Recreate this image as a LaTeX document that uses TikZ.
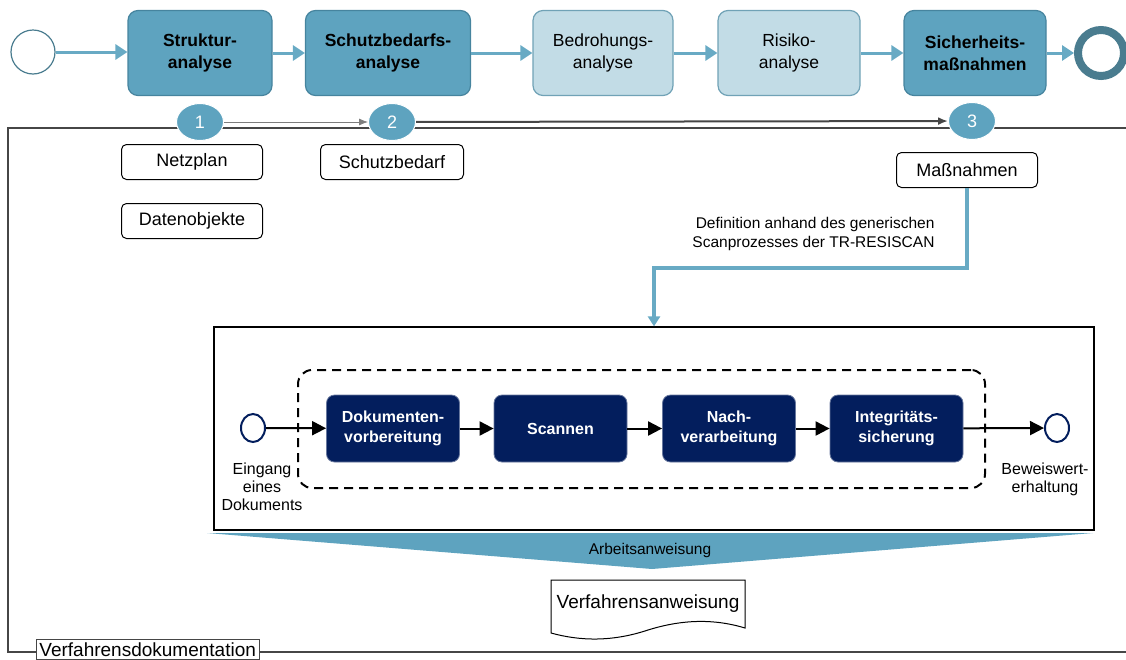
\documentclass[tikz,border=0pt]{standalone}
\usepackage{fontspec}
\setmainfont{Liberation Sans}
\usetikzlibrary{shapes.geometric,arrows.meta}
\definecolor{cmid}{RGB}{94,163,191}
\definecolor{cmidline}{RGB}{70,132,158}
\definecolor{clight}{RGB}{194,220,230}
\definecolor{clightline}{RGB}{112,162,182}
\definecolor{cnavy}{RGB}{3,30,93}
\definecolor{carrow}{RGB}{104,170,196}
\definecolor{cring}{RGB}{74,124,143}
\definecolor{cgrey}{RGB}{70,70,70}

\tikzset{
	phasebox/.style={draw=cmidline, fill=cmid, line width=1.2pt, rounded corners=10pt, minimum height=85pt, align=center, font=\fontsize{17.5}{22}\selectfont\bfseries},
	phaselight/.style={phasebox, draw=clightline, fill=clight, font=\fontsize{17.5}{22}\selectfont},
	phasearrow/.style={draw=carrow, line width=3pt, -{Triangle[length=12pt, width=15pt]}},
	numcirc/.style={ellipse, fill=cmid, draw=white, line width=1pt, minimum width=47pt, minimum height=37pt, text=white, font=\fontsize{18}{20}\selectfont},
	databox/.style={draw=black, line width=1pt, rounded corners=5pt, minimum height=35pt, font=\fontsize{18}{20}\selectfont},
	stepbox/.style={fill=cnavy, draw=cnavy!60!white, line width=0.8pt, rounded corners=8pt, minimum width=133pt, minimum height=67pt, text=white, align=center, font=\fontsize{16}{20}\selectfont\bfseries},
	stepcirc/.style={ellipse, draw=cnavy, line width=2pt, minimum width=24pt, minimum height=28pt},
	steparrow/.style={draw=black, line width=2pt, -{Triangle[length=14pt, width=14pt]}},
}

\begin{document}
\begin{tikzpicture}[x=1pt, y=-1pt]
	\useasboundingbox (0,0) rectangle (1126,659);
	\clip (0,0) rectangle (1126,659);

	% Frame
	\draw[cgrey, line width=1.2pt] (8,128) rectangle (1140,652);
	\node[anchor=north west, draw=cgrey, line width=0.8pt, fill=white, inner sep=3pt, font=\fontsize{19}{21}\selectfont] (doku) at (36,639)
		{Verfahrensdokumentation};

	% Phases
	\node[circle, draw=cring, line width=1.2pt, minimum size=44pt] (start) at (33,52) {};
	\node[phasebox, minimum width=144pt] (struktur) at (200,53) {Struktur-\\analyse};
	\node[phasebox, minimum width=165pt] (schutz) at (388,53) {Schutzbedarfs-\\analyse};
	\node[phaselight, minimum width=140pt] (bedrohung) at (603,53) {Bedrohungs-\\analyse};
	\node[phaselight, minimum width=142pt] (risiko) at (789,53) {Risiko-\\analyse};
	\node[phasebox, minimum width=142pt] (sicherheit) at (975,53) {Sicherheits-\\maßnahmen};
	\node[circle, draw=cring, line width=8pt, minimum size=46pt] (ende) at (1101,53) {};

	\draw[phasearrow] (start) -- (start -| struktur.west);
	\draw[phasearrow] (struktur) -- (schutz);
	\draw[phasearrow] (schutz) -- (bedrohung);
	\draw[phasearrow] (bedrohung) -- (risiko);
	\draw[phasearrow] (risiko) -- (sicherheit);
	\draw[phasearrow] (sicherheit) -- (ende);

	% Steps
	\node[numcirc] (n1) at (200,122) {1};
	\node[numcirc] (n2) at (392,122) {2};
	\node[numcirc] (n3) at (972,121) {3};
	\draw[cgrey!70, line width=0.8pt, -{Latex[length=9pt, width=7pt]}] (n1) -- (n2);
	\draw[cgrey, line width=2pt, -{Latex[length=10pt, width=8pt]}] (n2) -- (n3);

	% Results
	\node[databox, minimum width=141pt] (netzplan) at (192,162) {Netzplan};
	\node[databox, minimum width=143pt] (schutzbedarf) at (392,162) {Schutzbedarf};
	\node[databox, minimum width=141pt] (datenobj) at (192,221) {Datenobjekte};
	\node[databox, minimum width=141pt] (massnahmen) at (967,170) {Maßnahmen};

	% Scan process
	\node[draw=black, line width=1.2pt, minimum width=880pt, minimum height=203pt, inner sep=0pt] (scanbox) at (654,428.5) {};
	\node[draw=black, dashed, dash pattern=on 9pt off 6pt, line width=2pt, rounded corners=14pt, minimum width=687pt, minimum height=118pt, inner sep=0pt] (prozess) at (641.5,429) {};

	\coordinate (knick) at (654,268);
	\draw[carrow, line width=4pt, -{Triangle[length=10pt, width=12pt]}] (massnahmen.south) |- (knick) -- (scanbox.north);
	\node[anchor=east, align=right, font=\fontsize{15.5}{19}\selectfont] (deftext) at (938,234)
		{Definition anhand des generischen\\Scanprozesses der TR-RESISCAN};

	\node[stepcirc] (eingang) at (253,428) {};
	\node[stepbox] (vorber) at (393,428.5) {Dokumenten-\\vorbereitung};
	\node[stepbox] (scannen) at (560.5,428.5) {Scannen};
	\node[stepbox] (nachverarb) at (729,428.5) {Nach-\\verarbeitung};
	\node[stepbox] (integr) at (896.5,428.5) {Integritäts-\\sicherung};
	\node[stepcirc] (beweis) at (1057,428) {};

	\draw[steparrow] (eingang) -- (vorber);
	\draw[steparrow] (vorber) -- (scannen);
	\draw[steparrow] (scannen) -- (nachverarb);
	\draw[steparrow] (nachverarb) -- (integr);
	\draw[steparrow] (integr) -- (beweis);

	\node[anchor=north, align=center, inner sep=0pt, font=\fontsize{16}{18}\selectfont] (eingtext) at (262,463)
		{Eingang\\eines\\Dokuments};
	\node[anchor=north, align=center, inner sep=0pt, font=\fontsize{16}{18}\selectfont] (beweistext) at (1045,463)
		{Beweiswert-\\erhaltung};

	% Work instruction
	\fill[cmid] (207,533) -- (1093,533) -- (652,569) -- cycle;
	\node[font=\fontsize{15.5}{17}\selectfont] (arbeit) at (650,550) {Arbeitsanweisung};

	\draw[line width=1pt, fill=white] (551,580) -- (745,580) -- (745,628) .. controls (712,618) and (680,620) .. (648,630) .. controls (612,642) and (580,641) .. (551,633) -- cycle;
	\node[font=\fontsize{19}{21}\selectfont] (verfahren) at (648,604) {Verfahrensanweisung};
\end{tikzpicture}
\end{document}
